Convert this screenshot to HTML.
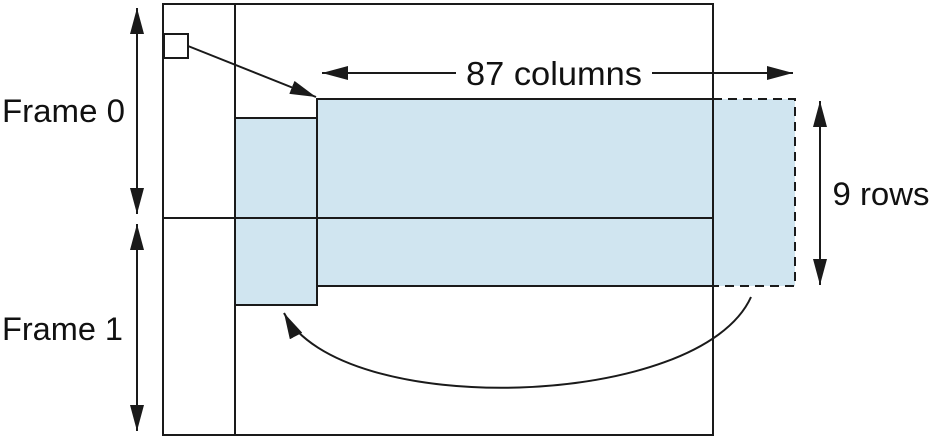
<!DOCTYPE html>
<html><head><style>body{margin:0;background:#fff}svg{display:block}text{font-family:"Liberation Sans",sans-serif;fill:#111}</style></head>
<body>
<svg width="933" height="437" viewBox="0 0 933 437">
<defs>
<marker id="b" viewBox="0 0 10 10" refX="10" refY="5" markerWidth="26" markerHeight="14" markerUnits="userSpaceOnUse" orient="auto-start-reverse" preserveAspectRatio="none"><path d="M0,0 L10,5 L0,10 z" fill="#1a1a1a"/></marker></defs>
<rect x="317" y="99" width="478" height="187" fill="#d0e5f0"/>
<rect x="235" y="118" width="82" height="187" fill="#d0e5f0" stroke="#1a1a1a" stroke-width="2"/>
<rect x="163" y="4" width="550" height="431" fill="none" stroke="#1a1a1a" stroke-width="2"/>
<line x1="235" y1="4" x2="235" y2="435" stroke="#1a1a1a" stroke-width="2"/>
<line x1="163" y1="218" x2="713" y2="218" stroke="#1a1a1a" stroke-width="2"/>
<path d="M713,99 H317 V286 H713" fill="none" stroke="#1a1a1a" stroke-width="2"/>
<path d="M713,99 H795 V286 H713" fill="none" stroke="#1a1a1a" stroke-width="2" stroke-dasharray="9,6"/>
<rect x="164" y="34" width="24" height="24" fill="#fff" stroke="#1a1a1a" stroke-width="2"/>
<line x1="188" y1="46" x2="316" y2="97" stroke="#1a1a1a" stroke-width="2" marker-end="url(#b)"/>
<line x1="322" y1="73" x2="456" y2="73" stroke="#1a1a1a" stroke-width="2" marker-start="url(#b)"/>
<line x1="652" y1="73" x2="793" y2="73" stroke="#1a1a1a" stroke-width="2" marker-end="url(#b)"/>
<text x="554" y="85" font-size="33" text-anchor="middle" textLength="176" lengthAdjust="spacingAndGlyphs">87 columns</text>
<line x1="820" y1="101" x2="820" y2="285" stroke="#1a1a1a" stroke-width="2" marker-start="url(#b)" marker-end="url(#b)"/>
<text x="881" y="205" font-size="32" text-anchor="middle" textLength="97" lengthAdjust="spacingAndGlyphs">9 rows</text>
<line x1="137" y1="8" x2="137" y2="214" stroke="#1a1a1a" stroke-width="2" marker-start="url(#b)" marker-end="url(#b)"/>
<line x1="137" y1="224" x2="137" y2="431" stroke="#1a1a1a" stroke-width="2" marker-start="url(#b)" marker-end="url(#b)"/>
<text x="2" y="122" font-size="32" textLength="123" lengthAdjust="spacingAndGlyphs">Frame 0</text>
<text x="2" y="340" font-size="32" textLength="121" lengthAdjust="spacingAndGlyphs">Frame 1</text>
<path d="M751,297 C700,410 340,420 284,313" fill="none" stroke="#1a1a1a" stroke-width="2" marker-end="url(#b)"/>
</svg>
</body></html>
